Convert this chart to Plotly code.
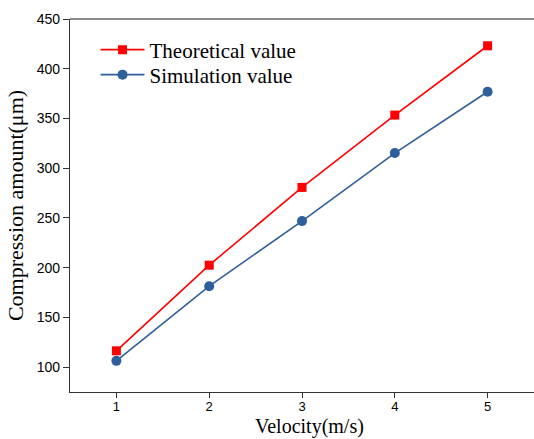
import plotly.graph_objects as go

velocity = [1, 2, 3, 4, 5]
theoretical = [116.4, 202.5, 280.7, 353.4, 423.1]
simulation = [106.3, 181.4, 246.8, 315.2, 376.9]
x_ticks = [1, 2, 3, 4, 5]
y_ticks = [100, 150, 200, 250, 300, 350, 400, 450]

fig = go.Figure()
fig.add_trace(go.Scatter(
    x=velocity, y=theoretical, mode="lines+markers", name="Theoretical value",
    line=dict(color="#FF0000", width=1.6),
    marker=dict(symbol="square", size=9, color="#FF0000"),
    legend="legend",
))
fig.add_trace(go.Scatter(
    x=velocity, y=simulation, mode="lines+markers", name="Simulation value",
    line=dict(color="#2F5F9A", width=1.6),
    marker=dict(symbol="circle", size=10, color="#2F5F9A"),
    legend="legend2",
))

leg_font = dict(family="Liberation Serif", size=21, color="black")
fig.update_layout(
    width=534, height=439,
    margin=dict(l=70, r=0, t=19, b=47),
    paper_bgcolor="white", plot_bgcolor="white",
    showlegend=True,
    legend=dict(
        x=0.055, y=1 - (50 - 19) / 373, xanchor="left", yanchor="middle",
        font=leg_font, bgcolor="rgba(0,0,0,0)", itemwidth=44,
    ),
    legend2=dict(
        x=0.055, y=1 - (75 - 19) / 373, xanchor="left", yanchor="middle",
        font=leg_font, bgcolor="rgba(0,0,0,0)", itemwidth=44,
    ),
    xaxis=dict(
        range=[0.5, 5.5], tickvals=x_ticks, ticks="outside", ticklen=5,
        ticklabelstandoff=-3,
        tickcolor="#333", showline=True, linecolor="#333", linewidth=1.3,
        showgrid=False, zeroline=False,
        tickfont=dict(family="Liberation Sans", size=13, color="black"),
    ),
    yaxis=dict(
        range=[75, 450], tickvals=y_ticks, ticks="outside", ticklen=6,
        tickcolor="#333", showline=True, linecolor="#333", linewidth=1.3,
        showgrid=False, zeroline=False,
        tickfont=dict(family="Liberation Sans", size=14, color="black"),
        title=dict(text="Compression amount(μm)", standoff=6,
                   font=dict(family="Liberation Serif", size=22, color="black")),
    ),
    annotations=[dict(
        text="Velocity(m/s)", xref="paper", yref="paper",
        x=(309 - 70) / 464, y=-47 / 373, xanchor="center", yanchor="bottom",
        showarrow=False, borderpad=0,
        font=dict(family="Liberation Serif", size=20, color="black"),
    )],
    shapes=[dict(type="line", xref="paper", yref="paper", x0=0, x1=1, y0=1, y1=1,
                 line=dict(color="#666", width=1.3))],
)

fig.write_html("out.html")
